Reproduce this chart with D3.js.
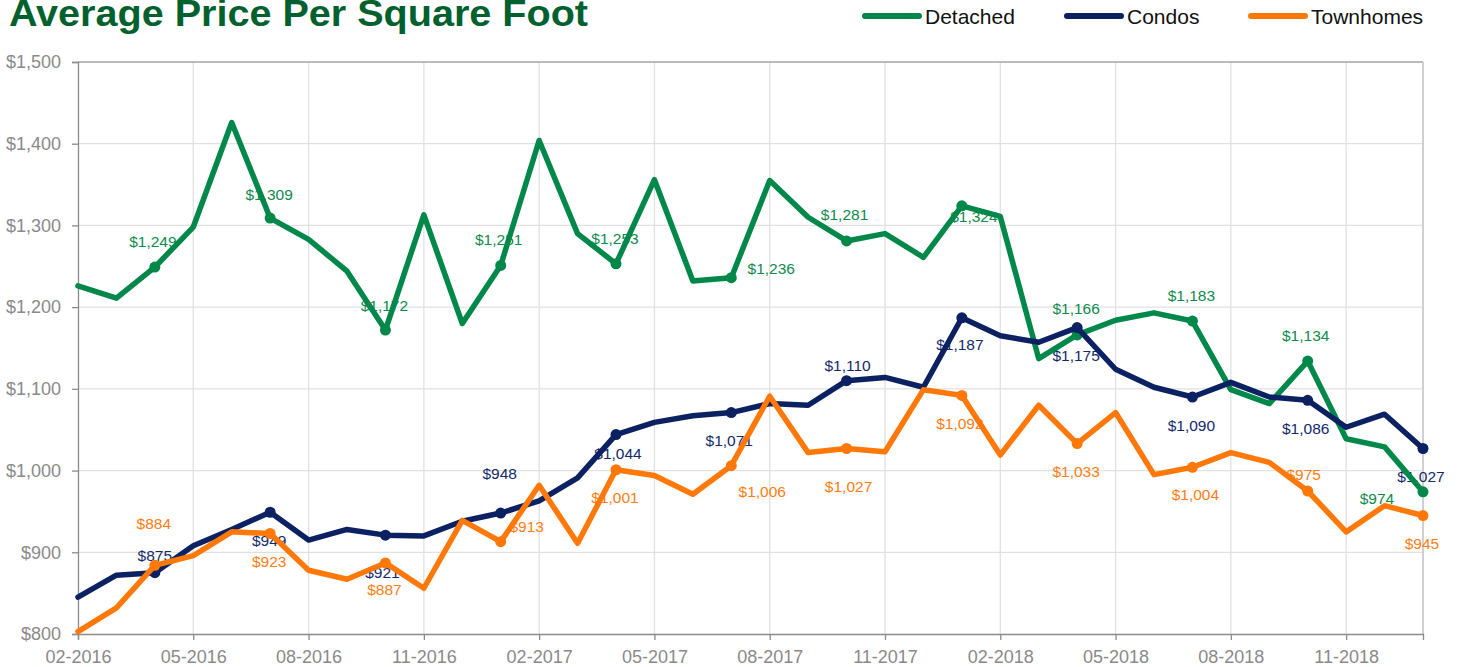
<!DOCTYPE html>
<html>
<head>
<meta charset="utf-8">
<script src="https://cdn.jsdelivr.net/npm/d3@7"></script>
<style>
  body { margin: 0; background: #fff; }
  svg { display: block; font-family: "Liberation Sans", Arial, Helvetica, sans-serif; }
</style>
</head>
<body>
<div id="chart"></div>
<script>
/**
 * Chart data
 */
var months = [
	"02-2016","03-2016","04-2016","05-2016","06-2016","07-2016","08-2016","09-2016","10-2016","11-2016","12-2016",
	"01-2017","02-2017","03-2017","04-2017","05-2017","06-2017","07-2017","08-2017","09-2017","10-2017","11-2017","12-2017",
	"01-2018","02-2018","03-2018","04-2018","05-2018","06-2018","07-2018","08-2018","09-2018","10-2018","11-2018","12-2018",
	"01-2019"
];
var xTickLabels = ["02-2016","05-2016","08-2016","11-2016","02-2017","05-2017","08-2017","11-2017","02-2018","05-2018","08-2018","11-2018"];
var yTicks = [800, 900, 1000, 1100, 1200, 1300, 1400, 1500];

var seriesNames = ["Detached", "Condos", "Townhomes"];

var detached = [1226, 1211, 1249, 1298, 1426, 1309, 1283, 1244, 1172, 1313, 1180, 1251,
	1404, 1290, 1253, 1356, 1232, 1236, 1355, 1310, 1281, 1290, 1261, 1324,
	1311, 1137, 1166, 1184, 1193, 1183, 1099, 1082, 1134, 1039, 1029, 974];

var condos = [845, 872, 875, 908, 928, 949, 915, 928, 921, 920, 938, 948,
	963, 991, 1044, 1059, 1067, 1071, 1082, 1080, 1110, 1114, 1102, 1187,
	1165, 1157, 1175, 1124, 1102, 1090, 1108, 1090, 1086, 1053, 1069, 1027];

var townhomes = [803, 832, 884, 896, 925, 923, 878, 867, 887, 856, 939, 913,
	982, 911, 1001, 994, 971, 1006, 1091, 1022, 1027, 1023, 1099, 1092,
	1019, 1080, 1033, 1071, 995, 1004, 1022, 1010, 975, 925, 957, 945];

// every third month carries a marker and a value label
var labelledIdx = [2, 5, 8, 11, 14, 17, 20, 23, 26, 29, 32, 35];

/**
 * Layout / style
 */
var W = 1464, H = 667;
var margin = {top: 62, right: 41, bottom: 33, left: 78};
var _width = W - margin.left - margin.right;
var _height = H - margin.top - margin.bottom;

var colors = {Detached: "#00874a", Condos: "#0b2161", Townhomes: "#ff7808"};
var labelColors = {Detached: "#0e8a4e", Condos: "#13296a", Townhomes: "#ff7d12"};

// label offsets (dx, dy) from the marker, one per labelled point
var labelOffsets = {
	Detached:  [[-2,-26],[-1,-24],[-1,-25],[-2,-26],[-1,-25],[40,-9],[-2,-26],[12,11],[-1,-26],[-1,-26],[-2,-26],[-46,7]],
	Condos:    [[0,-17],[-1,28],[-3,37],[-1,-40],[2,19],[-2,28],[1,-15],[-2,27],[-1,28],[-1,28],[-2,28],[-2,28]],
	Townhomes: [[-1,-42],[-1,28],[-1,27],[26,-15],[-1,28],[31,26],[2,38],[-2,28],[-1,28],[3,27],[-4,-17],[-1,28]]
};

var legendX = [865, 1067, 1251];

var svg = d3.select("#chart").append("svg")
	.attr("width", W)
	.attr("height", H);

var g = svg.append("g")
	.attr("transform", "translate(" + margin.left + "," + margin.top + ")");

var x = d3.scalePoint().domain(months).range([0, _width]);
var y = d3.scaleLinear().domain([800, 1500]).range([_height, 0]);

var seriesData = [
	{name: "Detached", values: detached},
	{name: "Condos", values: condos},
	{name: "Townhomes", values: townhomes}
];

// gridlines
g.append("g").selectAll("line")
	.data(yTicks.slice(1, -1))
	.join("line")
	.attr("x1", 0).attr("x2", _width)
	.attr("y1", function(d) { return y(d); })
	.attr("y2", function(d) { return y(d); })
	.attr("stroke", "#e1e1e1").attr("stroke-width", 1.3);

g.append("g").selectAll("line")
	.data(xTickLabels.slice(1))
	.join("line")
	.attr("x1", function(d) { return x(d); })
	.attr("x2", function(d) { return x(d); })
	.attr("y1", 0).attr("y2", _height)
	.attr("stroke", "#e1e1e1").attr("stroke-width", 1.3);

// plot border top / right
g.append("line").attr("x1", 0).attr("x2", _width).attr("y1", y(1500)).attr("y2", y(1500))
	.attr("stroke", "#a6a6a6").attr("stroke-width", 1.3);
g.append("line").attr("x1", _width).attr("x2", _width).attr("y1", 0).attr("y2", _height)
	.attr("stroke", "#d0d0d0").attr("stroke-width", 2);

// axes
var yAxis = g.append("g")
	.call(d3.axisLeft(y).tickValues(yTicks).tickFormat(d3.format("$,")).tickSize(6).tickPadding(11));
var xAxis = g.append("g")
	.attr("transform", "translate(0," + _height + ")")
	.call(d3.axisBottom(x).tickValues(xTickLabels).tickSize(6).tickPadding(10));

[yAxis, xAxis].forEach(function(a) {
	a.select(".domain").attr("stroke", "#8c8c8c").attr("stroke-width", 1.3);
	a.selectAll(".tick line").attr("stroke", "#8c8c8c").attr("stroke-width", 1.3);
	a.selectAll(".tick text").attr("fill", "#8a8a8a").attr("font-size", 18)
		.attr("font-family", "'Liberation Sans', Arial, sans-serif");
});

// value labels (drawn under the lines, as in the original)
var fmt = d3.format("$,");
seriesData.forEach(function(s) {
	g.append("g").selectAll("text")
		.data(labelledIdx)
		.join("text")
		.attr("x", function(i, k) { return x(months[i]) + labelOffsets[s.name][k][0]; })
		.attr("y", function(i, k) { return y(s.values[i]) + labelOffsets[s.name][k][1]; })
		.attr("text-anchor", "middle")
		.attr("dominant-baseline", "central")
		.attr("font-size", 15.5)
		.attr("fill", labelColors[s.name])
		.text(function(i) { return fmt(s.values[i]); });
});

// lines
var line = d3.line()
	.x(function(d, i) { return x(months[i]); })
	.y(function(d) { return y(d); });

seriesData.forEach(function(s) {
	var sg = g.append("g");
	sg.append("path")
		.datum(s.values)
		.attr("d", line)
		.attr("fill", "none")
		.attr("stroke", colors[s.name])
		.attr("stroke-width", 5.5)
		.attr("stroke-linejoin", "round")
		.attr("stroke-linecap", "round");
	sg.selectAll("circle")
		.data(labelledIdx)
		.join("circle")
		.attr("cx", function(i) { return x(months[i]); })
		.attr("cy", function(i) { return y(s.values[i]); })
		.attr("r", 5.5)
		.attr("fill", colors[s.name]);
});

// title
svg.append("text")
	.attr("x", 9).attr("y", 26)
	.attr("font-family", "'Liberation Sans Narrow', 'Arial Narrow', 'Liberation Sans', Arial, sans-serif")
	.attr("font-weight", "bold")
	.attr("font-size", 37)
	.attr("textLength", 579)
	.attr("lengthAdjust", "spacingAndGlyphs")
	.attr("fill", "#00612f")
	.text("Average Price Per Square Foot");

// legend
var legend = svg.append("g").selectAll("g")
	.data(seriesNames)
	.join("g")
	.attr("transform", function(d, i) { return "translate(" + legendX[i] + ",16)"; });
legend.append("line")
	.attr("x1", 0).attr("x2", 54).attr("y1", 0).attr("y2", 0)
	.attr("stroke", function(d) { return colors[d]; })
	.attr("stroke-width", 6)
	.attr("stroke-linecap", "round");
legend.append("text")
	.attr("x", 60).attr("y", 0)
	.attr("dominant-baseline", "central")
	.attr("font-size", 21)
	.attr("fill", "#111")
	.text(function(d) { return d; });
</script>
</body>
</html>
